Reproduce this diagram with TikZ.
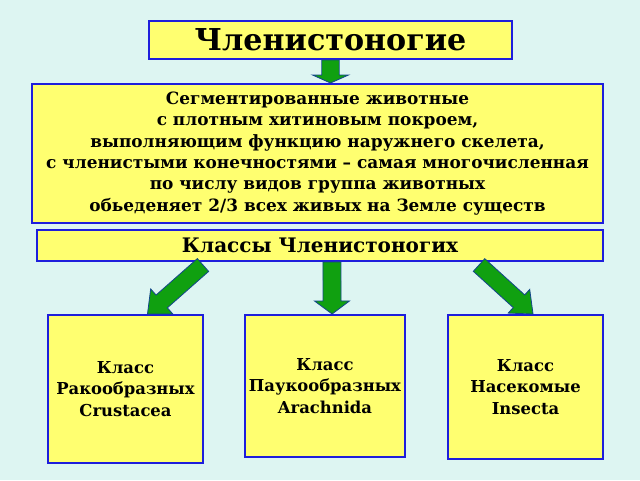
\documentclass[tikz,border=0pt]{standalone}
\usepackage{fontspec}
\setmainfont{DejaVu Serif}
\usetikzlibrary{calc}
\definecolor{bgc}{RGB}{221,245,242}
\definecolor{boxy}{RGB}{255,255,112}
\definecolor{boxb}{RGB}{30,30,220}
\definecolor{arrg}{RGB}{16,160,16}
\definecolor{arro}{RGB}{20,70,140}
\tikzset{
  box/.style={draw=boxb, fill=boxy, line width=1.5pt, inner sep=0pt, align=center, text=black},
  blockarrow/.style={fill=arrg, draw=arro, line width=0.6pt, line join=miter},
  titlefont/.style={font=\fontsize{22.6}{26}\selectfont\bfseries},
  descfont/.style={font=\fontsize{12.7}{16}\selectfont\bfseries},
  classfont/.style={font=\fontsize{15}{17}\selectfont\bfseries},
  leaffont/.style={font=\fontsize{12.3}{15.9}\selectfont\bfseries},
}
% #1 prefix, #2 tail, #3 tip, #4 half shaft, #5 half head, #6 head length
\newcommand\blockarr[6]{%
  \coordinate (#1h) at ($(#3)!#6!(#2)$);
  \coordinate (#1a1) at ($(#2)!#4!90:(#3)$);
  \coordinate (#1a2) at ($(#2)!#4!-90:(#3)$);
  \coordinate (#1s1) at ($(#1h)!#4!90:(#3)$);
  \coordinate (#1s2) at ($(#1h)!#4!-90:(#3)$);
  \coordinate (#1w1) at ($(#1h)!#5!90:(#3)$);
  \coordinate (#1w2) at ($(#1h)!#5!-90:(#3)$);
  \draw[blockarrow] (#1a1) -- (#1s1) -- (#1w1) -- (#3) -- (#1w2) -- (#1s2) -- (#1a2) -- cycle;
}
\begin{document}
\begin{tikzpicture}[x=0.75pt,y=-0.75pt]
\fill[bgc] (0,0) rectangle (640,480);
\useasboundingbox (0,0) rectangle (640,480);

\node[box, titlefont, minimum width=272.25pt, minimum height=28.5pt] (top) at (330.5,40) {Членистоногие};
\node[box, descfont, minimum width=428.25pt, minimum height=104.25pt] (desc) at (317.5,153.5)
  {Сегментированные животные\\с плотным хитиновым покроем,\\выполняющим функцию наружнего скелета,\\с членистыми конечностями – самая многочисленная\\по числу видов группа животных\\обьеденяет 2/3 всех живых на Земле существ};
\node[box, classfont, minimum width=424.5pt, minimum height=23.25pt] (classes) at (320,245.5) {Классы Членистоногих};
\node[box, leaffont, minimum width=116.25pt, minimum height=111pt] (crust) at (125.5,389) {Класс\\Ракообразных\\Crustacea};
\node[box, leaffont, minimum width=120pt, minimum height=106.5pt] (arach) at (325,386) {Класс\\Паукообразных\\Arachnida};
\node[box, leaffont, minimum width=116.25pt, minimum height=108pt] (insect) at (525.5,387) {Класс\\Насекомые\\Insecta};

% top arrow
\coordinate (t0) at (top.south);
\coordinate (t1) at ($(desc.north west)!(top.south)!(desc.north east)$);
\blockarr{ta}{t0}{t1}{6.5pt}{13.5pt}{6pt}

% middle arrow
\coordinate (m0) at ($(classes.south west)!0.521!(classes.south east)$);
\coordinate (m1) at ($(arach.north west)!0.544!(arach.north east)$);
\blockarr{ma}{m0}{m1}{6.75pt}{13.1pt}{9.75pt}

% left arrow
\coordinate (l0) at ($(classes.south west)!0.294!(classes.south east)+(0,3)$);
\coordinate (l1) at ($(crust.north west)!0.64!(crust.north east)$);
\blockarr{la}{l0}{l1}{6.4pt}{12.5pt}{14.25pt}

% right arrow
\coordinate (r0) at ($(classes.south west)!0.78!(classes.south east)+(0,3)$);
\coordinate (r1) at ($(insect.north west)!0.548!(insect.north east)$);
\blockarr{ra}{r0}{r1}{6.4pt}{12pt}{14.25pt}
\end{tikzpicture}
\end{document}
